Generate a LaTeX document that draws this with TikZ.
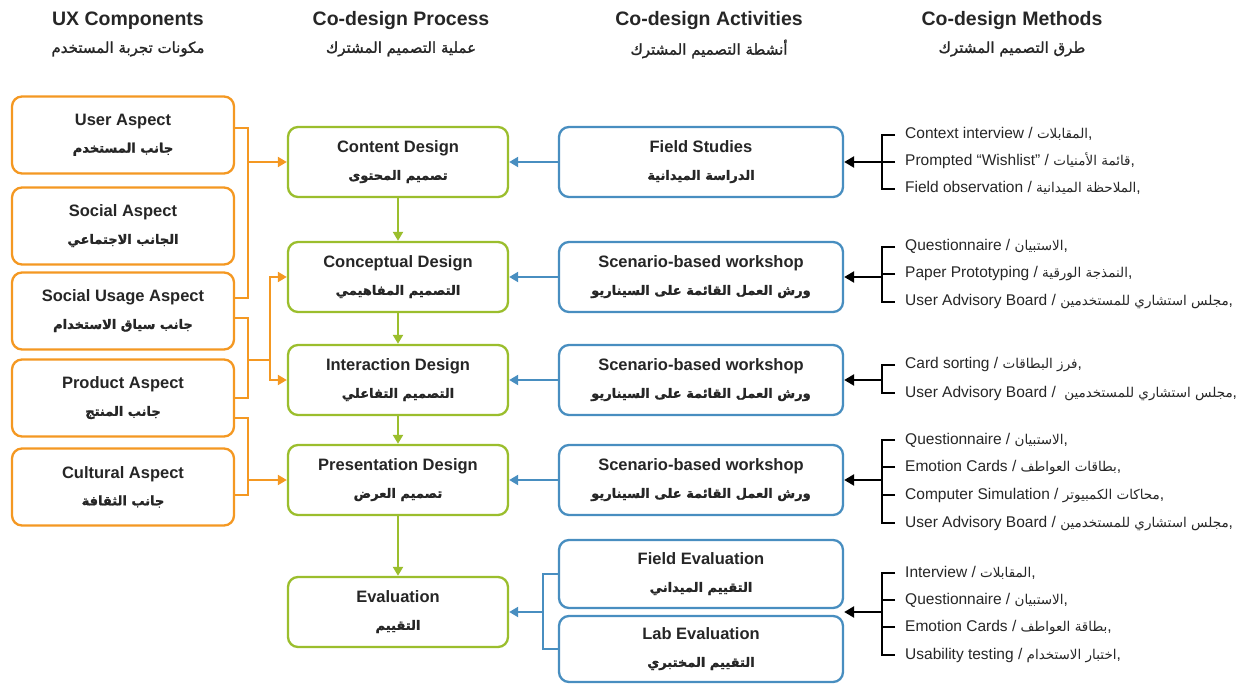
\documentclass[tikz,border=0pt]{standalone}
\usepackage{fontspec}
\usetikzlibrary{arrows.meta,calc}
\setmainfont{Liberation Sans}
\newfontfamily\arb[Script=Arabic]{DejaVu Sans}
\newfontfamily\arbb[Script=Arabic,FakeBold=1.5]{DejaVu Sans}
\TeXXeTstate=1
\definecolor{orng}{RGB}{244,152,34}
\definecolor{grn}{RGB}{155,190,45}
\definecolor{blu}{RGB}{72,142,192}
\definecolor{txt}{RGB}{38,38,38}
\tikzset{
  boxbase/.style={draw, line width=2.3pt, rounded corners=10pt, fill=white, align=center, text=txt,
    font=\bfseries\fontsize{16.5}{27}\selectfont, inner sep=0pt},
  obox/.style={boxbase, draw=orng, minimum width=222pt, minimum height=77pt},
  gbox/.style={boxbase, draw=grn, minimum width=220pt, minimum height=70pt},
  bbox/.style={boxbase, draw=blu, minimum width=284pt, minimum height=70pt},
  hdr/.style={text=txt, font=\bfseries\fontsize{19.5}{22}\selectfont, inner sep=0pt},
  hdrar/.style={text=txt, font=\arbb\fontsize{15}{18}\selectfont, inner sep=0pt},
  meth/.style={anchor=west, text=txt, font=\fontsize{15.5}{18}\selectfont, inner sep=0pt, text height=11pt, text depth=3pt},
  oline/.style={draw=orng, line width=2pt},
  oarrow/.style={oline, -{Triangle[length=9pt,width=10pt]}},
  garrow/.style={draw=grn, line width=2pt, -{Triangle[length=9pt,width=10pt]}},
  bline/.style={draw=blu, line width=2pt},
  barrow/.style={bline, -{Triangle[length=9pt,width=10pt]}},
  kline/.style={draw=black, line width=2.4pt},
  karrow/.style={kline, -{Triangle[length=10pt,width=11pt]}},
}
\newcommand{\AR}[1]{{\arbb\fontsize{13}{14}\selectfont\beginR #1\endR}}
\newcommand{\ar}[1]{{\arb\fontsize{13.5}{14}\selectfont\beginR #1\endR}}
\begin{document}
\begin{tikzpicture}[x=1pt,y=-1pt]
\useasboundingbox (0,0) rectangle (1247,684);

% headers
\node[hdr] (h1) at (128,21) {UX Components};
\node[hdrar] (h1a) at (128,49) {\beginR مكونات تجربة المستخدم\endR};
\node[hdr] (h2) at (401,21) {Co-design Process};
\node[hdrar] (h2a) at (401,49) {\beginR عملية التصميم المشترك\endR};
\node[hdr] (h3) at (709,21) {Co-design Activities};
\node[hdrar] (h3a) at (709,49) {\beginR أنشطة التصميم المشترك\endR};
\node[hdr] (h4) at (1012,21) {Co-design Methods};
\node[hdrar] (h4a) at (1012,49) {\beginR طرق التصميم المشترك\endR};

% UX components
\node[obox] (user) at (123,135) {User Aspect\\\AR{جانب المستخدم}};
\node[obox] (social) at (123,226) {Social Aspect\\\AR{الجانب الاجتماعي}};
\node[obox] (susage) at (123,311) {Social Usage Aspect\\\AR{جانب سياق الاستخدام}};
\node[obox] (product) at (123,398) {Product Aspect\\\AR{جانب المنتج}};
\node[obox] (cultural) at (123,487) {Cultural Aspect\\\AR{جانب الثقافة}};

% process
\node[gbox] (content) at (398,162) {Content Design\\\AR{تصميم المحتوى}};
\node[gbox] (concept) at (398,277) {Conceptual Design\\\AR{التصميم المفاهيمي}};
\node[gbox] (interact) at (398,380) {Interaction Design\\\AR{التصميم التفاعلي}};
\node[gbox] (present) at (398,480) {Presentation Design\\\AR{تصميم العرض}};
\node[gbox] (eval) at (398,612) {Evaluation\\\AR{التقييم}};

% activities
\node[bbox] (field) at (701,162) {Field Studies\\\AR{الدراسة الميدانية}};
\node[bbox] (scen1) at (701,277) {Scenario-based workshop\\\AR{ورش العمل القائمة على السيناريو}};
\node[bbox] (scen2) at (701,380) {Scenario-based workshop\\\AR{ورش العمل القائمة على السيناريو}};
\node[bbox] (scen3) at (701,480) {Scenario-based workshop\\\AR{ورش العمل القائمة على السيناريو}};
\node[bbox, minimum height=68pt] (feval) at (701,574) {Field Evaluation\\\AR{التقييم الميداني}};
\node[bbox, minimum height=66pt] (leval) at (701,649) {Lab Evaluation\\\AR{التقييم المختبري}};

% methods
\node[meth] (m11) at (905,135) {Context interview / \ar{المقابلات},};
\node[meth] (m12) at (905,162) {Prompted “Wishlist” / \ar{قائمة الأمنيات},};
\node[meth] (m13) at (905,189) {Field observation / \ar{الملاحظة الميدانية},};

\node[meth] (m21) at (905,247) {Questionnaire / \ar{الاستبيان},};
\node[meth] (m22) at (905,274) {Paper Prototyping / \ar{النمذجة الورقية},};
\node[meth] (m23) at (905,302) {User Advisory Board / \ar{مجلس استشاري للمستخدمين},};

\node[meth] (m31) at (905,365) {Card sorting / \ar{فرز البطاقات},};
\node[meth] (m32) at (905,393) {User Advisory Board / \hspace{4pt}\ar{مجلس استشاري للمستخدمين},};

\node[meth] (m41) at (905,440) {Questionnaire / \ar{الاستبيان},};
\node[meth] (m42) at (905,467) {Emotion Cards / \ar{بطاقات العواطف},};
\node[meth] (m43) at (905,495) {Computer Simulation / \ar{محاكات الكمبيوتر},};
\node[meth] (m44) at (905,523) {User Advisory Board / \ar{مجلس استشاري للمستخدمين},};

\node[meth] (m51) at (905,573) {Interview / \ar{المقابلات},};
\node[meth] (m52) at (905,600) {Questionnaire / \ar{الاستبيان},};
\node[meth] (m53) at (905,627) {Emotion Cards / \ar{بطاقة العواطف},};
\node[meth] (m54) at (905,655) {Usability testing / \ar{اختبار الاستخدام},};

% orange connectors
\coordinate (j1) at (248,162);
\draw[oline] ([yshift=7pt]user.east) -| (j1) |- ([yshift=13pt]susage.east);
\draw[oarrow] (j1) -- (content.west);
\coordinate (j2) at (248,360);
\coordinate (j3) at (270,360);
\draw[oline] ([yshift=-7pt]susage.east) -| (j2) |- (product.east);
\draw[oline] (j2) -- (j3);
\draw[oarrow] (j3) |- (concept.west);
\draw[oarrow] (j3) |- (interact.west);
\coordinate (j4) at (248,480);
\draw[oline] ([yshift=-20pt]product.east) -| (j4) |- ([yshift=-8pt]cultural.east);
\draw[oarrow] (j4) -- (present.west);

% green arrows
\draw[garrow] (content.south) -- (concept.north);
\draw[garrow] (concept.south) -- (interact.north);
\draw[garrow] (interact.south) -- (present.north);
\draw[garrow] (present.south) -- (eval.north);

% blue arrows
\draw[barrow] (field.west) -- (content.east);
\draw[barrow] (scen1.west) -- (concept.east);
\draw[barrow] (scen2.west) -- (interact.east);
\draw[barrow] (scen3.west) -- (present.east);
\coordinate (k1) at (543,612);
\draw[bline] (feval.west) -| (k1) |- (leval.west);
\draw[barrow] (k1) -- (eval.east);

% black brackets
\coordinate (b1) at (882,162);
\draw[kline] ([xshift=-10pt]m11.west) -| (b1) |- ([xshift=-10pt]m13.west);
\draw[kline] ([xshift=-10pt]m12.west) -- (b1 |- m12.west);
\draw[karrow] (b1) -- (field.east);

\coordinate (b2) at (882,277);
\draw[kline] ([xshift=-10pt]m21.west) -| (b2) |- ([xshift=-10pt]m23.west);
\draw[kline] ([xshift=-10pt]m22.west) -- (b2 |- m22.west);
\draw[karrow] (b2) -- (scen1.east);

\coordinate (b3) at (882,380);
\draw[kline] ([xshift=-10pt]m31.west) -| (b3) |- ([xshift=-10pt]m32.west);
\draw[karrow] (b3) -- (scen2.east);

\coordinate (b4) at (882,480);
\draw[kline] ([xshift=-10pt]m41.west) -| (b4) |- ([xshift=-10pt]m44.west);
\draw[kline] ([xshift=-10pt]m42.west) -- (b4 |- m42.west);
\draw[kline] ([xshift=-10pt]m43.west) -- (b4 |- m43.west);
\draw[karrow] (b4) -- (scen3.east);

\coordinate (b5) at (882,612);
\draw[kline] ([xshift=-10pt]m51.west) -| (b5) |- ([xshift=-10pt]m54.west);
\draw[kline] ([xshift=-10pt]m52.west) -- (b5 |- m52.west);
\draw[kline] ([xshift=-10pt]m53.west) -- (b5 |- m53.west);
\draw[karrow] (b5) -- (b5 -| feval.east);
\end{tikzpicture}
\end{document}
